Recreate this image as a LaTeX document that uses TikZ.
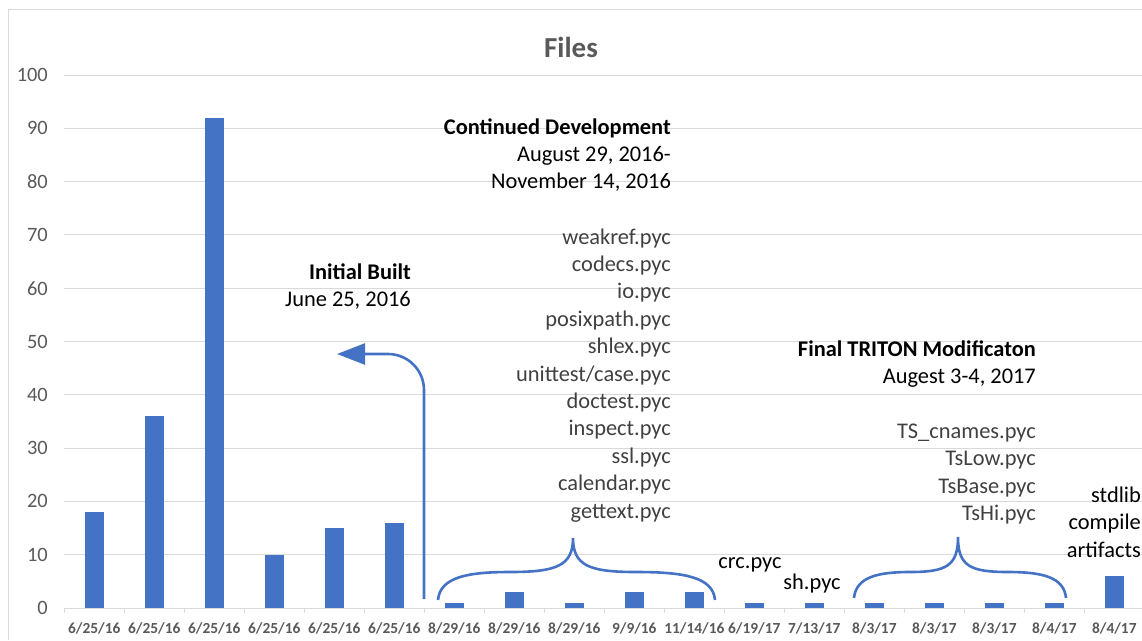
\documentclass[tikz,border=0pt]{standalone}
\usepackage{fontspec}
\setmainfont{Carlito}
\usetikzlibrary{arrows.meta}

\definecolor{barblue}{HTML}{4472C4}
\definecolor{gridgray}{HTML}{D9D9D9}
\definecolor{axisgray}{HTML}{595959}
\definecolor{listgray}{HTML}{404040}

\tikzset{
  bar/.style={fill=barblue},
  grid line/.style={draw=gridgray, line width=1pt},
  ylabel/.style={anchor=east, inner sep=0pt, text=axisgray, font=\fontsize{20.4}{24}\selectfont},
  xlabel/.style={anchor=base, inner sep=0pt, text=axisgray, font=\fontsize{15.4}{18}\selectfont\bfseries},
  note/.style={anchor=base east, align=right, inner sep=0pt, font=\fontsize{22.4}{27.4}\selectfont},
  callout/.style={draw=barblue, line width=2.6pt},
}

\begin{document}
\begin{tikzpicture}[x=1pt, y=-1pt]
    \useasboundingbox (0,0) rectangle (1142,640);

    % Frame and grid
    \draw[grid line] (8,640) -- (8,9) -- (1142,9);
    \foreach \v in {0,10,...,100} {
        \draw[grid line] (64.3,{608-5.33*\v}) -- (1142,{608-5.33*\v});
        \node[ylabel] (y\v) at (48,{608-5.33*\v}) {\v};
    }
    \foreach \k in {0,...,18}
        \draw[grid line] ({64.3+60*\k},608) -- ({64.3+60*\k},613);

    % Title
    \node (title) [anchor=base, text=axisgray, font=\fontsize{29}{34}\selectfont\bfseries] at (571,57) {Files};

    % Bars
    \foreach \v [count=\i from 0] in {18,36,92,10,15,16,1,3,1,3,3,1,1,1,1,1,1,6}
        \fill[bar] ({85+60*\i},608) rectangle ({103.6+60*\i},{608-5.33*\v});

    % Dates
    \foreach \d [count=\i from 0] in {6/25/16,6/25/16,6/25/16,6/25/16,6/25/16,6/25/16,
        8/29/16,8/29/16,8/29/16,9/9/16,11/14/16,6/19/17,7/13/17,8/3/17,8/3/17,8/3/17,8/4/17,8/4/17}
        \node[xlabel] (x\i) at ({94.3+60*\i},633) {\d};

    % Notes (anchored at the baseline of their last line)
    \node (initial) [note] at (411,306.5) {\textbf{Initial Built}\\June 25, 2016};
    \node (contdev) [note] at (671,188.8) {\textbf{Continued Development}\\August 29, 2016-\\November 14, 2016};
    \node (devfiles) [note, text=listgray] at (671,518) {weakref.pyc\\codecs.pyc\\io.pyc\\posixpath.pyc\\shlex.pyc\\unittest/case.pyc\\doctest.pyc\\inspect.pyc\\ssl.pyc\\calendar.pyc\\gettext.pyc};
    \node (crc) [note, anchor=base] at (750,568) {crc.pyc};
    \node (sh) [note, anchor=base] at (812,589) {sh.pyc};
    \node (triton) [note] at (1036,383.5) {\textbf{Final TRITON Modificaton}\\Augest 3-4, 2017};
    \node (tritonfiles) [note, text=listgray] at (1036,520.5) {TS\_cnames.pyc\\TsLow.pyc\\TsBase.pyc\\TsHi.pyc};
    \node (stdlib) [note] at (1141,557) {stdlib\\compile\\artifacts};

    % Arrow and braces
    \coordinate (built-from) at (424,599);
    \coordinate (built-to) at (337,354);
    \draw[callout, rounded corners=36pt, -{Triangle[length=28pt,width=21pt]}] (built-from) |- (built-to);
    \draw[callout] (438,600) .. controls (440,577) and (468,572) .. (510,572)
        .. controls (556,572) and (573,566) .. (573,538)
        .. controls (573,566) and (590,572) .. (636,572)
        .. controls (684,572) and (713,577) .. (715,600);
    \draw[callout] (854,598) .. controls (856,577) and (878,572) .. (910,572)
        .. controls (946,572) and (958,566) .. (958,537)
        .. controls (958,566) and (970,572) .. (1008,572)
        .. controls (1042,572) and (1064,577) .. (1066,598);

\end{tikzpicture}
\end{document}
